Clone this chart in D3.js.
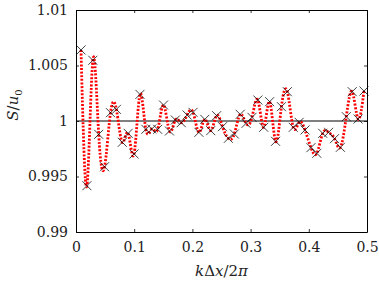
<!DOCTYPE html>
<html>
<head>
<meta charset="utf-8">
<script src="https://cdn.jsdelivr.net/npm/d3@7"></script>
<style>
  body { margin: 0; background: #fff; }
</style>
</head>
<body>
<div id="my_dataviz"></div>
<script>
// wavenumber k dx / 2pi of each sample
var kx = [0.0086, 0.0187, 0.0289, 0.0390, 0.0491, 0.0593, 0.0694, 0.0795, 0.0896, 0.0998,
          0.1099, 0.1200, 0.1302, 0.1403, 0.1504, 0.1606, 0.1707, 0.1808, 0.1909, 0.2011,
          0.2112, 0.2213, 0.2315, 0.2416, 0.2517, 0.2618, 0.2720, 0.2821, 0.2922, 0.3024,
          0.3125, 0.3226, 0.3327, 0.3429, 0.3530, 0.3631, 0.3733, 0.3834, 0.3935, 0.4037,
          0.4138, 0.4239, 0.4340, 0.4442, 0.4543, 0.4644, 0.4746, 0.4847, 0.4948]
// S / u0
var ratio = [1.0064, 0.99417, 1.00547, 0.9988, 0.99588, 1.00075, 1.00105, 0.99808, 0.99889, 0.99703,
             1.0024, 0.99925, 0.99928, 0.99925, 1.00144, 0.9991, 1.00009, 0.99985, 1.00054, 1.00078,
             0.99898, 1.00015, 0.99913, 1.00048, 0.99949, 0.99844, 0.99883, 1.0006, 0.99979, 1.00033,
             1.00189, 0.99943, 1.00174, 0.99817, 1.00129, 1.00264, 0.99943, 0.99988, 0.99919, 0.9976,
             0.99709, 0.99889, 0.99898, 0.99841, 0.99763, 1.00039, 1.00264, 1.00018, 1.0027]
var xTicks = [0, 0.1, 0.2, 0.3, 0.4, 0.5]
var yTicks = [0.99, 0.995, 1, 1.005, 1.01]

var width = 379
var height = 284
var margin = {top: 10, right: 12, bottom: 52, left: 76}
var w = width - margin.left - margin.right
var h = height - margin.top - margin.bottom
var serif = "DejaVu Serif"

var svg = d3.select("#my_dataviz")
  .append("svg")
    .attr("width", width)
    .attr("height", height)
    .attr("font-family", serif)
  .append("g")
    .attr("transform", "translate(" + margin.left + "," + margin.top + ")");

var x = d3.scaleLinear().domain([0, 0.5]).range([0, w])
var y = d3.scaleLinear().domain([0.99, 1.01]).range([h, 0])

var data = kx.map((k, i) => ({k: k, s: ratio[i]}))

// axes, ticks pointing inward on all four sides
function styleAxis(g) {
  g.attr("font-family", serif)
  g.selectAll("path").attr("stroke", "#000").attr("stroke-width", 1)
  g.selectAll("line").attr("stroke", "#000").attr("stroke-width", 0.8)
  g.selectAll("text").attr("font-size", 14).attr("fill", "#222")
}

svg.append("g")
    .attr("transform", "translate(0," + h + ")")
    .call(d3.axisBottom(x).tickValues(xTicks).tickFormat(d3.format("")).tickSize(-3).tickSizeOuter(0).tickPadding(10))
    .call(styleAxis)
svg.append("g")
    .call(d3.axisTop(x).tickValues(xTicks).tickFormat("").tickSize(-3).tickSizeOuter(0))
    .call(styleAxis)
svg.append("g")
    .call(d3.axisLeft(y).tickValues(yTicks).tickFormat(d3.format("")).tickSize(-3).tickSizeOuter(0).tickPadding(8))
    .call(styleAxis)
svg.append("g")
    .attr("transform", "translate(" + w + ",0)")
    .call(d3.axisRight(y).tickValues(yTicks).tickFormat("").tickSize(-3).tickSizeOuter(0))
    .call(styleAxis)

// reference line at S/u0 = 1
svg.append("line")
    .attr("x1", 0).attr("x2", w)
    .attr("y1", y(1)).attr("y2", y(1))
    .attr("stroke", "#000").attr("stroke-width", 1)

// dotted spline through the samples
var line = d3.line()
    .x(d => x(d.k))
    .y(d => y(d.s))
    .curve(d3.curveNatural)

svg.append("path")
    .datum(data)
    .attr("fill", "none")
    .attr("stroke", "#ff0000")
    .attr("stroke-width", 2.8)
    .attr("stroke-dasharray", "2,1.6")
    .attr("d", line)

// cross markers
var m = 4.5
svg.append("g")
  .selectAll("path")
  .data(data)
  .join("path")
    .attr("transform", d => "translate(" + x(d.k) + "," + y(d.s) + ")")
    .attr("d", "M" + (-m) + "," + (-m) + "L" + m + "," + m + "M" + (-m) + "," + m + "L" + m + "," + (-m))
    .attr("stroke", "#000")
    .attr("stroke-width", 0.75)
    .attr("fill", "none")

// axis titles
var xl = svg.append("text")
    .attr("x", w / 2)
    .attr("y", h + 44)
    .attr("text-anchor", "middle")
    .attr("font-size", 15)
    .attr("fill", "#222")
xl.append("tspan").attr("font-style", "italic").text("k")
xl.append("tspan").text("Δ")
xl.append("tspan").attr("font-style", "italic").text("x")
xl.append("tspan").text("/2")
xl.append("tspan").attr("font-style", "italic").text("π")

var yl = svg.append("text")
    .attr("transform", "translate(" + (-58) + "," + (h / 2 - 16) + ") rotate(-90)")
    .attr("text-anchor", "middle")
    .attr("font-size", 15)
    .attr("fill", "#222")
yl.append("tspan").attr("font-style", "italic").text("S")
yl.append("tspan").text("/")
yl.append("tspan").attr("font-style", "italic").text("u")
yl.append("tspan").attr("font-size", 10).attr("dy", 4).text("0")
</script>
</body>
</html>
